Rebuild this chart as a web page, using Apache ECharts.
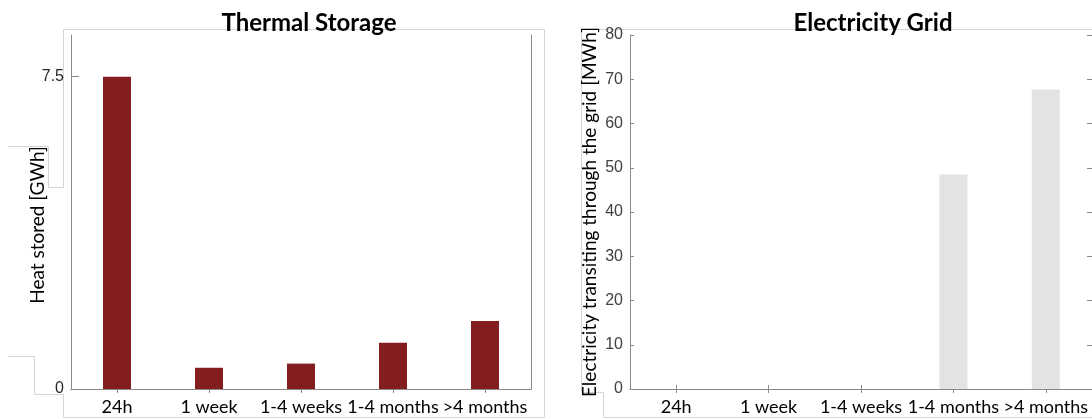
<!DOCTYPE html>
<html>
<head>
<meta charset="utf-8">
<script src="https://cdn.jsdelivr.net/npm/echarts@6/dist/echarts.min.js"></script>
<style>
  html, body { margin: 0; padding: 0; background: #ffffff; }
  #chart { width: 1092px; height: 419px; }
</style>
</head>
<body>
<div id="chart"></div>
<script>
// ---- data ----
const categories = ['24h', '1 week', '1-4 weeks', '1-4 months', '>4 months'];
const heatStoredGWh = [7.5, 0.51, 0.61, 1.11, 1.63];
const gridTransitMWh = [0, 0, 0, 48.5, 67.7];
const titles = ['Thermal Storage', 'Electricity Grid'];
const yNames = ['Heat stored [GWh]', 'Electricity transiting through the grid [MWh]'];

const axisGrey = '#8a8a8a';
const frameGrey = '#d4d4d4';
const labelFont = 'Lato';

const chart = echarts.init(document.getElementById('chart'), null, { renderer: 'canvas' });

function catAxis(gridIndex, position, showLabel) {
  return {
    type: 'category', gridIndex, position, data: categories,
    boundaryGap: true,
    axisLine: { show: true, lineStyle: { color: axisGrey, width: 1 } },
    axisTick: { show: true, inside: true, alignWithLabel: true, interval: 0, length: 4, lineStyle: { color: axisGrey } },
    axisLabel: { show: showLabel, interval: 0, hideOverlap: false, color: '#000',
      fontFamily: labelFont, fontSize: 18, margin: 9 },
    splitLine: { show: false }
  };
}

const option = {
  animation: false,
  backgroundColor: '#ffffff',
  title: [
    { text: titles[0], left: 304, top: 6, textAlign: 'center',
      textStyle: { fontFamily: labelFont, fontWeight: 'bold', fontSize: 24, color: '#000' } },
    { text: titles[1], left: 868, top: 6, textAlign: 'center',
      textStyle: { fontFamily: labelFont, fontWeight: 'bold', fontSize: 24, color: '#000' } }
  ],
  grid: [
    { left: 71, top: 35, width: 460, height: 354, containLabel: false },
    { left: 630, top: 35, width: 462, height: 354, containLabel: false }
  ],
  xAxis: [
    catAxis(0, 'bottom', true),
    catAxis(0, 'top', false),
    catAxis(1, 'bottom', true),
    catAxis(1, 'top', false)
  ],
  yAxis: [
    { type: 'value', gridIndex: 0, position: 'left', min: 0, max: 8.5, interval: 7.5,
      name: yNames[0], nameLocation: 'middle', nameGap: 24, nameRotate: 90, nameMoveOverlap: false,
      nameTextStyle: { fontFamily: labelFont, fontSize: 19, color: '#000', padding: [0, 26, 0, 0] },
      axisLine: { show: true, lineStyle: { color: axisGrey } },
      axisTick: { show: true, inside: true, length: 8, lineStyle: { color: axisGrey } },
      axisLabel: { color: '#262626', fontFamily: 'Liberation Sans', fontSize: 16, margin: 7,
        showMaxLabel: false, formatter: v => (v === 0 ? '0' : v === 7.5 ? '7.5' : '') },
      splitLine: { show: false } },
    { type: 'value', gridIndex: 0, position: 'right', min: 0, max: 8.5, interval: 7.5,
      axisLine: { show: true, lineStyle: { color: axisGrey } },
      axisTick: { show: false }, axisLabel: { show: false }, splitLine: { show: false } },
    { type: 'value', gridIndex: 1, position: 'left', min: 0, max: 80, interval: 10,
      name: yNames[1], nameLocation: 'middle', nameGap: 31, nameRotate: 90, nameMoveOverlap: false,
      nameTextStyle: { fontFamily: labelFont, fontSize: 19, color: '#000' },
      axisLine: { show: true, lineStyle: { color: axisGrey } },
      axisTick: { show: true, inside: true, length: 4, lineStyle: { color: axisGrey } },
      axisLabel: { color: '#404040', fontFamily: 'Liberation Sans', fontSize: 16, margin: 7 },
      splitLine: { show: false } },
    { type: 'value', gridIndex: 1, position: 'right', min: 0, max: 80, interval: 10,
      axisLine: { show: true, lineStyle: { color: axisGrey } },
      axisTick: { show: true, inside: true, length: 5, lineStyle: { color: axisGrey } },
      axisLabel: { show: false }, splitLine: { show: false } }
  ],
  series: [
    { type: 'bar', name: titles[0], xAxisIndex: 0, yAxisIndex: 0, data: heatStoredGWh,
      barWidth: 28, itemStyle: { color: '#821e1f' }, z: 3 },
    { type: 'bar', name: titles[1], xAxisIndex: 2, yAxisIndex: 2, data: gridTransitMWh,
      barWidth: 28, itemStyle: { color: '#e3e3e3' }, z: 3 }
  ],
  graphic: [
    { type: 'polyline', z: -1, silent: true,
      shape: { points: [[8, 146.5], [48.5, 146.5], [48.5, 187.5], [63.5, 187.5], [63.5, 29.5],
        [544.5, 29.5], [544.5, 417.5], [63.5, 417.5], [63.5, 394.5], [34.5, 394.5],
        [34.5, 356.5], [8, 356.5]] },
      style: { stroke: frameGrey, lineWidth: 1, fill: null } },
    { type: 'polyline', z: -1, silent: true,
      shape: { points: [[1092, 29.5], [581.5, 29.5], [581.5, 392.5], [603.5, 392.5],
        [603.5, 417.5], [1092, 417.5]] },
      style: { stroke: frameGrey, lineWidth: 1, fill: null } }
  ]
};

chart.setOption(option);
</script>
</body>
</html>
